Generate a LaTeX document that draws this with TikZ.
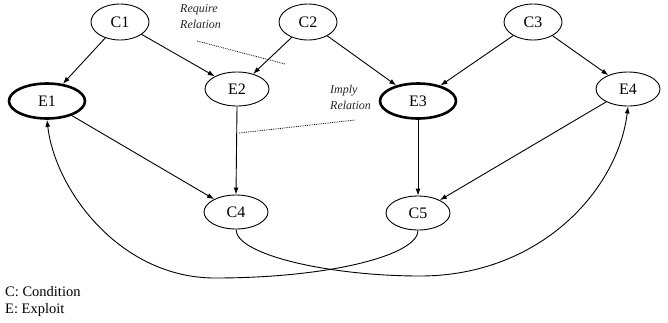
\documentclass[tikz,border=0pt]{standalone}
\usepackage{fontspec}
\setmainfont{Liberation Serif}
\usetikzlibrary{shapes.geometric,arrows.meta}
\begin{document}
\begin{tikzpicture}[x=1pt,y=-1pt,
  cnode/.style={ellipse,draw,line width=0.9pt,minimum width=58pt,minimum height=36pt,inner sep=0pt,font=\fontsize{16}{18}\selectfont},
  enode/.style={cnode,minimum width=64pt,minimum height=34pt},
  ebold/.style={cnode,line width=2.6pt,minimum width=76pt,minimum height=35pt},
  rel/.style={-{Latex[length=7pt,width=5pt]},line width=0.9pt},
  note/.style={font=\fontsize{12}{16}\selectfont\itshape,align=left,text=black!85,inner sep=0pt},
  noteline/.style={densely dotted,line width=0.8pt},
  legend/.style={anchor=west,inner sep=0pt,font=\fontsize{14.5}{16}\selectfont}]
\useasboundingbox (0,0) rectangle (668,322);

% condition and exploit nodes
\node[cnode] (C1) at (120,22) {C1};
\node[cnode] (C2) at (308,22) {C2};
\node[cnode] (C3) at (533,22) {C3};
\node[ebold] (E1) at (47,101) {E1};
\node[enode] (E2) at (237,89) {E2};
\node[ebold] (E3) at (418,101) {E3};
\node[enode] (E4) at (628,89) {E4};
\node[enode] (C4) at (236,212) {C4};
\node[enode] (C5) at (418,213) {C5};

% require edges
\draw[rel] (C1) -- (E1);
\draw[rel] (C1) -- (E2);
\draw[rel] (C2) -- (E2);
\draw[rel] (C2) -- (E3);
\draw[rel] (C3) -- (E3);
\draw[rel] (C3) -- (E4);
% imply edges
\draw[rel] (E1) -- (C4);
\draw[rel] (E2.south) -- (C4.north);
\draw[rel] (E3.south) -- (C5.north);
\draw[rel] (E4) -- (C5);
% long crossing edges
\draw[rel] (C5.south) .. controls (418,255) and (330,278) .. (215,278)
  .. controls (120,278) and (55,190) .. (E1.south);
\draw[rel] (C4.south) .. controls (236,255) and (330,276) .. (420,276)
  .. controls (540,276) and (618,190) .. (E4.south);

% annotations
\node[note,anchor=west] (req) at (180,17) {Require\\Relation};
\coordinate (reqA) at (197,41);
\coordinate (reqB) at (285,64);
\draw[noteline] (reqA) -- (reqB);
\node[note,anchor=west] (imp) at (330,97) {Imply\\Relation};
\coordinate (impA) at (239,133);
\coordinate (impB) at (355,120);
\draw[noteline] (impA) -- (impB);

% legend
\node[legend] (lc) at (5,292) {C: Condition};
\node[legend] (le) at (5,310) {E: Exploit};
\end{tikzpicture}
\end{document}
